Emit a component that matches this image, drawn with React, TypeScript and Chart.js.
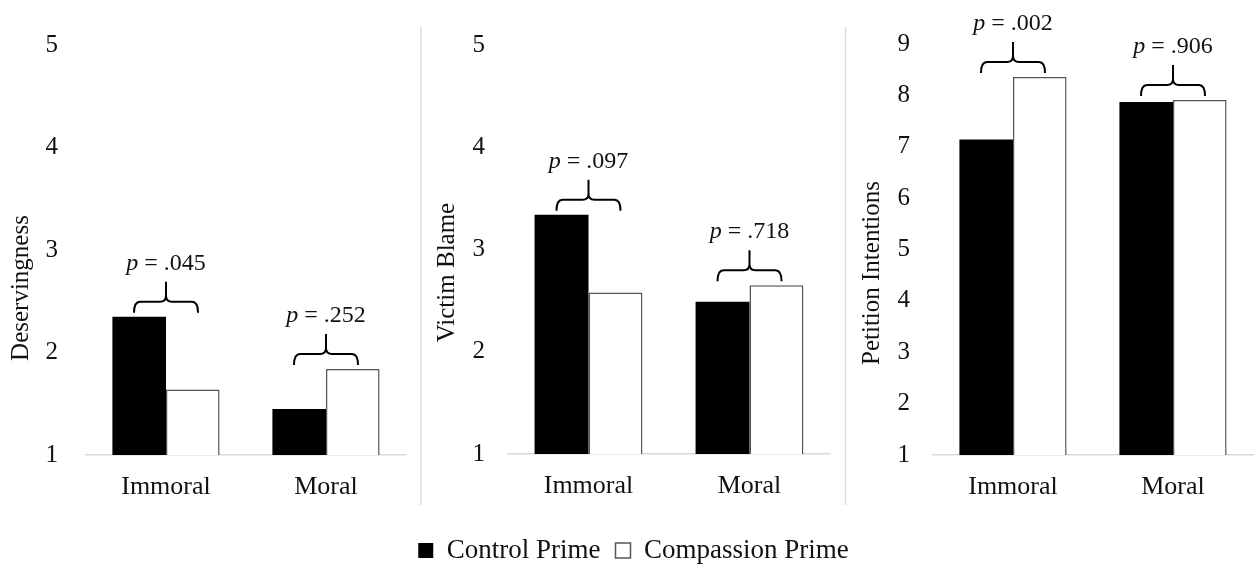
import React, { useEffect, useRef } from 'react';
import { Chart, registerables } from 'chart.js';

Chart.register(...registerables);

// ---------- data ----------
const categories = ['Immoral', 'Moral'];
const seriesNames = ['Control Prime', 'Compassion Prime'];

const deservingnessControl = [2.35, 1.45];
const deservingnessCompassion = [1.64, 1.84];
const deservingnessP = ['.045', '.252'];

const victimBlameControl = [3.34, 2.49];
const victimBlameCompassion = [2.58, 2.65];
const victimBlameP = ['.097', '.718'];

const petitionControl = [7.14, 7.87];
const petitionCompassion = [8.36, 7.91];
const petitionP = ['.002', '.906'];

const yAxisMin = 1;
const yAxisMaxSmall = 5;
const yAxisMaxLarge = 9;

// ---------- styles ----------
const FONT = "'Liberation Serif', 'Times New Roman', serif";
const TEXT = '#111111';
const CANVAS_H = 574;
const SEP_TOP = 27;
const SEP_BOTTOM = 505;

type PanelProps = {
  left: number;
  width: number;
  yTitle: string;
  control: number[];
  compassion: number[];
  pValues: string[];
  yMax: number;
  yWidth: number;
  rightWidth: number;
  padRight: number;
  padTop: number;
  padBottom: number;
  xHeight: number;
  tickPad: number;
  titleOffset: number;
  titleShift: number;
  legend: boolean;
  separators: number[];
};

function makeOverlay(p: PanelProps) {
  return {
    id: 'overlay',
    afterDatasetsDraw(chart: any) {
      const ctx: CanvasRenderingContext2D = chart.ctx;
      const area = chart.chartArea;
      const xs = chart.scales.x;
      const m0 = chart.getDatasetMeta(0);
      const m1 = chart.getDatasetMeta(1);
      ctx.save();
      // panel separators
      ctx.strokeStyle = '#d9d9d9';
      ctx.lineWidth = 1.5;
      for (const sx of p.separators) {
        const lx = sx - p.left;
        ctx.beginPath();
        ctx.moveTo(lx, SEP_TOP);
        ctx.lineTo(lx, SEP_BOTTOM);
        ctx.stroke();
      }
      // braces + p-values
      categories.forEach((_, i) => {
        const b0 = m0.data[i];
        const b1 = m1.data[i];
        const top = Math.min(b0.y, b1.y);
        const xc = xs.getPixelForValue(i);
        const half = 32;
        const x1 = xc - half;
        const x2 = xc + half;
        const yEnd = top - 4;
        const yH = top - 15;
        const yTip = top - 35;
        const r = 6;
        ctx.strokeStyle = '#000';
        ctx.lineWidth = 2;
        ctx.beginPath();
        ctx.moveTo(x1, yEnd);
        ctx.quadraticCurveTo(x1, yH, x1 + r, yH);
        ctx.lineTo(xc - r, yH);
        ctx.quadraticCurveTo(xc, yH, xc, yH - r);
        ctx.lineTo(xc, yTip);
        ctx.moveTo(x2, yEnd);
        ctx.quadraticCurveTo(x2, yH, x2 - r, yH);
        ctx.lineTo(xc + r, yH);
        ctx.quadraticCurveTo(xc, yH, xc, yH - r);
        ctx.stroke();

        const italic = `italic 24px ${FONT}`;
        const normal = `24px ${FONT}`;
        const rest = ` = ${p.pValues[i]}`;
        ctx.font = italic;
        const wp = ctx.measureText('p').width;
        ctx.font = normal;
        const wr = ctx.measureText(rest).width;
        const sx = xc - (wp + wr) / 2;
        const base = yTip - 12;
        ctx.fillStyle = TEXT;
        ctx.textAlign = 'left';
        ctx.textBaseline = 'alphabetic';
        ctx.font = italic;
        ctx.fillText('p', sx, base);
        ctx.font = normal;
        ctx.fillText(rest, sx + wp, base);
      });
      // y-axis title
      ctx.translate(area.left - p.titleOffset, (area.top + area.bottom) / 2 + p.titleShift);
      ctx.rotate(-Math.PI / 2);
      ctx.font = `25px ${FONT}`;
      ctx.fillStyle = TEXT;
      ctx.textAlign = 'center';
      ctx.textBaseline = 'middle';
      ctx.fillText(p.yTitle, 0, 0);
      ctx.restore();
    },
  };
}

function buildConfig(p: PanelProps): any {
  const scales: any = {
    x: {
      grid: { display: false, drawTicks: false },
      border: { display: true, color: '#d9d9d9', width: 1.5 },
      ticks: { font: { family: FONT, size: 26 }, color: TEXT, padding: 17 },
      afterFit: (s: any) => {
        s.height = p.xHeight;
      },
    },
    y: {
      min: yAxisMin,
      max: p.yMax,
      grid: { display: false, drawTicks: false },
      border: { display: false },
      ticks: { stepSize: 1, font: { family: FONT, size: 25 }, color: TEXT, padding: p.tickPad },
      afterFit: (s: any) => {
        s.width = p.yWidth;
      },
    },
  };
  if (p.rightWidth > 0) {
    scales.yr = {
      position: 'right',
      display: true,
      grid: { display: false, drawTicks: false },
      border: { display: false },
      ticks: { display: false },
      afterFit: (s: any) => {
        s.width = p.rightWidth;
      },
    };
  }
  return {
    type: 'bar',
    data: {
      labels: categories,
      datasets: [
        {
          label: seriesNames[0],
          data: p.control,
          backgroundColor: '#000000',
          borderColor: '#000000',
          borderWidth: 0,
          categoryPercentage: 0.67,
          barPercentage: 1,
        },
        {
          label: seriesNames[1],
          data: p.compassion,
          backgroundColor: '#ffffff',
          borderColor: '#555555',
          borderWidth: 1.5,
          categoryPercentage: 0.67,
          barPercentage: 1,
        },
      ],
    },
    options: {
      responsive: false,
      animation: false,
      layout: { padding: { left: 0, right: p.padRight, top: p.padTop, bottom: p.padBottom } },
      plugins: {
        legend: {
          display: p.legend,
          position: 'bottom',
          labels: {
            boxWidth: 15,
            boxHeight: 15,
            padding: 15,
            color: TEXT,
            font: { family: FONT, size: 27 },
          },
        },
        tooltip: { enabled: false },
      },
      scales,
    },
    plugins: [makeOverlay(p)],
  };
}

function Panel(props: PanelProps) {
  const ref = useRef<HTMLCanvasElement>(null);
  useEffect(() => {
    const chart = new Chart(ref.current as HTMLCanvasElement, buildConfig(props));
    return () => chart.destroy();
  }, []);
  return (
    <canvas
      ref={ref}
      width={props.width}
      height={CANVAS_H}
      style={{ position: 'absolute', left: props.left, top: 0, width: props.width, height: CANVAS_H }}
    />
  );
}

export default function App() {
  const panels: PanelProps[] = [
    {
      left: 0, width: 420, yTitle: 'Deservingness',
      control: deservingnessControl, compassion: deservingnessCompassion, pValues: deservingnessP,
      yMax: yAxisMaxSmall, yWidth: 86, rightWidth: 0, padRight: 14, padTop: 45,
      padBottom: CANVAS_H - 455 - 50, xHeight: 50, tickPad: 28, titleOffset: 65, titleShift: 38,
      legend: false, separators: [],
    },
    {
      left: 400, width: 467, yTitle: 'Victim Blame',
      control: victimBlameControl, compassion: victimBlameCompassion, pValues: victimBlameP,
      yMax: yAxisMaxSmall, yWidth: 108, rightWidth: 37, padRight: 0, padTop: 45,
      padBottom: 0, xHeight: CANVAS_H - 51 - 455, tickPad: 23, titleOffset: 61, titleShift: 23,
      legend: true, separators: [421, 845.5],
    },
    {
      left: 846, width: 412, yTitle: 'Petition Intentions',
      control: petitionControl, compassion: petitionCompassion, pValues: petitionP,
      yMax: yAxisMaxLarge, yWidth: 87, rightWidth: 0, padRight: 5, padTop: 44,
      padBottom: CANVAS_H - 455 - 50, xHeight: 50, tickPad: 23, titleOffset: 61, titleShift: 23.5,
      legend: false, separators: [],
    },
  ];
  return (
    <div
      style={{
        position: 'absolute', left: 0, top: 0, width: 1258, height: 564,
        overflow: 'hidden', background: '#ffffff',
      }}
    >
      {panels.map((p, i) => (
        <Panel key={i} {...p} />
      ))}
    </div>
  );
}
